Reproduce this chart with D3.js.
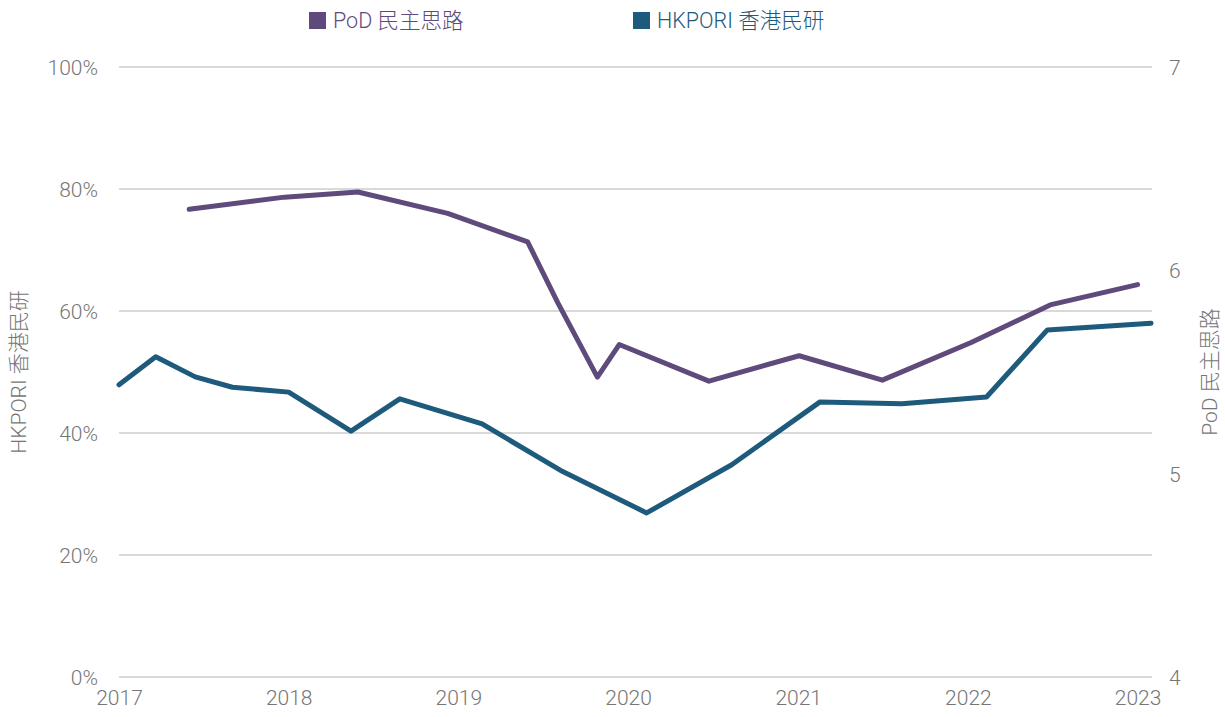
<!DOCTYPE html>
<html>
<head>
<meta charset="utf-8">
<script src="https://cdn.jsdelivr.net/npm/d3@7"></script>
<style>
  body { margin: 0; background: #fff; }
  text { font-family: Roboto, "Noto Sans CJK TC", sans-serif; font-weight: 300; }
  .tick text { fill: #767676; font-size: 21px; }
  .grid line { stroke: #d9d9d9; stroke-width: 2; }
</style>
</head>
<body>
<div id="chart"></div>
<script>
// PoD 民主思路 (right axis, score 4-7)
var podDates = ["2017-06-01", "2017-12-23", "2018-05-30", "2018-12-09", "2019-05-30",
                "2019-08-03", "2019-10-27", "2019-12-13", "2020-06-23", "2021-01-03",
                "2021-07-01", "2022-01-08", "2022-06-27", "2023-01-01"];
var podValues = [6.30, 6.36, 6.385, 6.28, 6.14, 5.84, 5.475, 5.635, 5.455, 5.58,
                 5.46, 5.645, 5.83, 5.93];

// HKPORI 香港民研 (left axis, percent)
var hkDates = ["2017-01-01", "2017-03-21", "2017-06-14", "2017-09-02", "2018-01-01",
               "2018-05-15", "2018-08-28", "2019-02-21", "2019-08-08", "2020-02-10",
               "2020-08-11", "2021-02-17", "2021-08-12", "2022-02-10", "2022-06-21",
               "2023-01-30"];
var hkValues = [47.9, 52.5, 49.2, 47.5, 46.7, 40.3, 45.6, 41.5, 33.9, 26.9,
                34.8, 45.1, 44.8, 45.9, 56.9, 58.0];

var leftTicks = [0, 20, 40, 60, 80, 100];
var rightTicks = [4, 5, 6, 7];
var yearTicks = [2017, 2018, 2019, 2020, 2021, 2022, 2023];

var podName = "PoD 民主思路";
var hkName = "HKPORI 香港民研";
var podColor = "#5e4a7b";
var hkColor = "#1e5a7c";

var width = 1225, height = 717;
var margin = {top: 67, right: 73, bottom: 40, left: 119};

var parse = d3.timeParse("%Y-%m-%d");

var svg = d3.select("#chart").append("svg")
    .attr("width", width)
    .attr("height", height);

var x = d3.scaleTime()
    .domain([parse("2017-01-01"), parse("2023-02-01")])
    .range([margin.left, width - margin.right]);

var yLeft = d3.scaleLinear()
    .domain([0, 100])
    .range([height - margin.bottom, margin.top]);

var yRight = d3.scaleLinear()
    .domain([4, 7])
    .range([height - margin.bottom, margin.top]);

// gridlines
svg.append("g")
    .attr("class", "grid")
    .selectAll("line")
    .data(leftTicks)
  .enter().append("line")
    .attr("x1", x.range()[0])
    .attr("x2", x.range()[1])
    .attr("y1", yLeft)
    .attr("y2", yLeft);

// left axis
var gl = svg.append("g")
    .attr("transform", "translate(" + (margin.left - 18) + ",0)")
    .call(d3.axisLeft(yLeft).tickValues(leftTicks).tickSize(0)
      .tickFormat(function(d) { return d + "%"; }));
gl.select(".domain").remove();
gl.selectAll("text").attr("dy", "0.35em");

// right axis
var gr = svg.append("g")
    .attr("transform", "translate(" + (width - margin.right + 14) + ",0)")
    .call(d3.axisRight(yRight).tickValues(rightTicks).tickSize(0)
      .tickFormat(d3.format("d")));
gr.select(".domain").remove();
gr.selectAll("text").attr("dy", "0.35em");

// x axis
var gx = svg.append("g")
    .attr("transform", "translate(0," + (height - margin.bottom) + ")")
    .call(d3.axisBottom(x)
      .tickValues(yearTicks.map(function(y) { return new Date(y, 0, 1); }))
      .tickSize(0)
      .tickFormat(d3.timeFormat("%Y")));
gx.select(".domain").remove();
gx.selectAll("text").attr("dy", "1.2em");

// axis titles
svg.append("text")
    .attr("transform", "translate(26," + 372 + ") rotate(-90)")
    .attr("text-anchor", "middle")
    .attr("fill", "#767676")
    .style("font-size", "21px")
    .text(hkName);

svg.append("text")
    .attr("transform", "translate(1217," + 372 + ") rotate(-90)")
    .attr("text-anchor", "middle")
    .attr("fill", "#767676")
    .style("font-size", "21px")
    .text(podName);

// lines
var podData = podDates.map(function(d, i) { return {date: parse(d), value: podValues[i]}; });
var hkData = hkDates.map(function(d, i) { return {date: parse(d), value: hkValues[i]}; });

var podLine = d3.line()
    .x(function(d) { return x(d.date); })
    .y(function(d) { return yRight(d.value); });

var hkLine = d3.line()
    .x(function(d) { return x(d.date); })
    .y(function(d) { return yLeft(d.value); });

svg.append("path")
    .attr("d", hkLine(hkData))
    .attr("fill", "none")
    .attr("stroke", hkColor)
    .attr("stroke-width", 5)
    .attr("stroke-linejoin", "round")
    .attr("stroke-linecap", "round");

svg.append("path")
    .attr("d", podLine(podData))
    .attr("fill", "none")
    .attr("stroke", podColor)
    .attr("stroke-width", 5)
    .attr("stroke-linejoin", "round")
    .attr("stroke-linecap", "round");

// legend
var legend = [
  {name: podName, color: podColor, x: 309},
  {name: hkName, color: hkColor, x: 633}
];

var lg = svg.append("g").selectAll("g")
    .data(legend)
  .enter().append("g")
    .attr("transform", function(d) { return "translate(" + d.x + ",12)"; });

lg.append("rect")
    .attr("width", 17)
    .attr("height", 17)
    .attr("fill", function(d) { return d.color; });

lg.append("text")
    .attr("x", 24)
    .attr("y", 16)
    .attr("fill", function(d) { return d.color; })
    .style("font-size", "21.5px")
    .text(function(d) { return d.name; });
</script>
</body>
</html>
